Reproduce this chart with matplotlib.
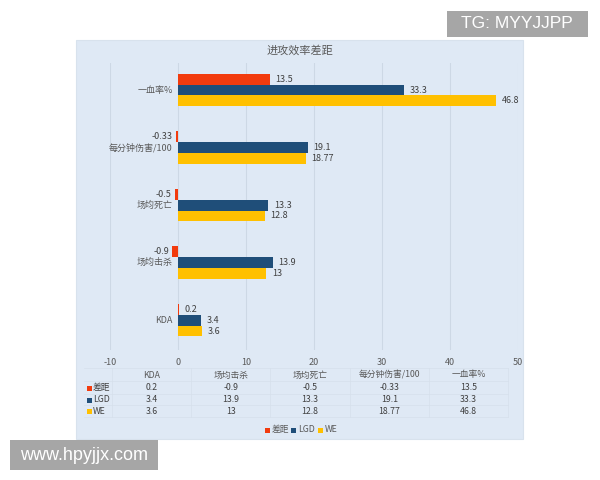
import matplotlib
matplotlib.use("Agg")
import matplotlib.pyplot as plt
from matplotlib.patches import Rectangle

plt.rcParams['font.family'] = ['Noto Sans CJK SC', 'DejaVu Sans']

categories = ["KDA", "场均击杀", "场均死亡", "每分钟伤害/100", "一血率%"]
diff = [0.2, -0.9, -0.5, -0.33, 13.5]
lgd = [3.4, 13.9, 13.3, 19.1, 33.3]
we = [3.6, 13, 12.8, 18.77, 46.8]
diff_txt = ["0.2", "-0.9", "-0.5", "-0.33", "13.5"]
lgd_txt = ["3.4", "13.9", "13.3", "19.1", "33.3"]
we_txt = ["3.6", "13", "12.8", "18.77", "46.8"]
series_names = ["差距", "LGD", "WE"]
colors = ["#f23b0e", "#1f4e79", "#ffc000"]
xticks = [-10, 0, 10, 20, 30, 40, 50]

W, H = 600, 480
fig = plt.figure(figsize=(6, 4.8), dpi=100)
fig.patch.set_facecolor("white")

def fx(px):
    return px / W

def fy(py):
    return 1 - py / H

def square(px, py, c, size=5):
    fig.add_artist(Rectangle((fx(px), fy(py + size / 2)), size / W, size / H,
                             transform=fig.transFigure, facecolor=c, lw=0, zorder=4))

# light blue panel
fig.add_artist(Rectangle((fx(76), fy(439)), fx(523) - fx(76), fy(40) - fy(439),
                         transform=fig.transFigure, facecolor="#dfe9f5",
                         edgecolor="#d8e2ed", lw=0.8, zorder=0))

ax = fig.add_axes([fx(110), fy(350), fx(518) - fx(110), fy(63) - fy(350)])
ax.patch.set_alpha(0)
for s in ax.spines.values():
    s.set_visible(False)

h = 0.19
ys = list(range(len(categories)))
all_series = [(diff, diff_txt, 1), (lgd, lgd_txt, 0), (we, we_txt, -1)]
for (vals, txts, off), c in zip(all_series, colors):
    pos = [y + off * h for y in ys]
    ax.barh(pos, vals, height=h, color=c, zorder=3)
    for p, v, t in zip(pos, vals, txts):
        if v >= 0:
            ax.text(v + 0.8, p, t, va="center", ha="left", fontsize=6.5, color="#404040")
        else:
            ax.text(v - 0.4, p, t, va="center", ha="right", fontsize=6.5, color="#404040")

for y, cat in zip(ys, categories):
    ax.text(-0.8, y, cat, va="center", ha="right", fontsize=6.5, color="#595959")

ax.set_xlim(-10, 50)
ax.set_ylim(-0.52, 4.47)
ax.set_xticks(xticks)
ax.set_xticklabels([str(t) for t in xticks], fontsize=6.5, color="#595959")
ax.set_yticks([])
ax.tick_params(axis="x", length=0, pad=6)
ax.grid(axis="x", color="#cdd8e5", lw=0.8, zorder=0)

fig.text(0.5, fy(50), "进攻效率差距", ha="center", va="center", fontsize=8, color="#595959")

# data table
col_x0, col_w = 112, 79.2
row_y = [375, 388, 400, 411]
line_c = "#d6e0eb"
for yy in [368, 381, 394, 405, 417]:
    fig.add_artist(plt.Line2D([fx(84), fx(col_x0 + 5 * col_w)], [fy(yy), fy(yy)],
                              transform=fig.transFigure, color=line_c, lw=0.5))
for i in range(6):
    xx = col_x0 + i * col_w
    fig.add_artist(plt.Line2D([fx(xx), fx(xx)], [fy(368), fy(417)],
                              transform=fig.transFigure, color=line_c, lw=0.5))
for i, cat in enumerate(categories):
    fig.text(fx(col_x0 + (i + 0.5) * col_w), fy(row_y[0]), cat, ha="center", va="center",
             fontsize=6.3, color="#595959")
for r, (name, txts, c) in enumerate(zip(series_names, [diff_txt, lgd_txt, we_txt], colors)):
    yy = row_y[r + 1]
    square(87, yy, c)
    fig.text(fx(93), fy(yy), name, ha="left", va="center", fontsize=6.3, color="#404040")
    for i, t in enumerate(txts):
        fig.text(fx(col_x0 + (i + 0.5) * col_w), fy(yy), t, ha="center", va="center",
                 fontsize=6.3, color="#404040")

# legend
for name, c, sx in zip(series_names, colors, [265, 291, 318]):
    square(sx, 430, c)
    fig.text(fx(sx + 7), fy(430), name, ha="left", va="center", fontsize=6.3, color="#595959")

# watermarks
fig.add_artist(Rectangle((fx(447), fy(37)), fx(588) - fx(447), fy(11) - fy(37),
                         transform=fig.transFigure, facecolor="#a6a6a6", lw=0, zorder=5))
fig.text(fx(517), fy(24), "TG: MYYJJPP", ha="center", va="center", fontsize=12.5,
         color="white", zorder=6, family=["Liberation Sans"])
fig.add_artist(Rectangle((fx(10), fy(470)), fx(158) - fx(10), fy(440) - fy(470),
                         transform=fig.transFigure, facecolor="#a6a6a6", lw=0, zorder=5))
fig.text(fx(84), fy(455), "www.hpyjjx.com", ha="center", va="center", fontsize=13,
         color="white", zorder=6, family=["Liberation Sans"])

fig.savefig("out.png", dpi=100)
